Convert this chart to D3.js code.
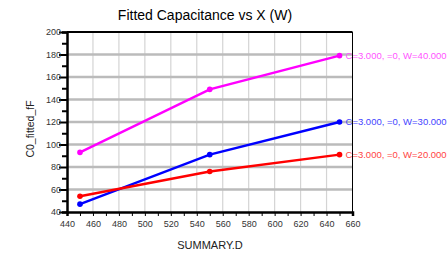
<!DOCTYPE html>
<html>
<head>
<meta charset="utf-8">
<script src="https://cdn.jsdelivr.net/npm/d3@7"></script>
<style>
  body { margin: 0; background: #fff; }
  svg { font-family: "Liberation Sans", Arial, sans-serif; }
</style>
</head>
<body>
<svg id="chart" width="448" height="253"></svg>
<script>
// data
var xVals = [450, 550, 650]
var seriesNames = ["C=3.000, =0, W=40.000", "C=3.000, =0, W=30.000", "C=3.000, =0, W=20.000"]
var w40 = [93, 149, 179]
var w30 = [47, 91, 120]
var w20 = [54, 76, 91]
var colors = ["#ff00ff", "#0000ff", "#ff0000"]
var labelColors = ["#ff55ff", "#4444ff", "#ff4444"]
var xTicks = [440, 460, 480, 500, 520, 540, 560, 580, 600, 620, 640, 660]
var yTicks = [40, 60, 80, 100, 120, 140, 160, 180, 200]

var series = [w40, w30, w20]

var svg = d3.select('#chart')
var margin = {top: 32, left: 67, right: 96, bottom: 41}
var width = 448, height = 253

var x = d3.scaleLinear().domain([440, 660]).range([margin.left, width - margin.right + 0.5])
var y = d3.scaleLinear().domain([40, 200]).range([height - margin.bottom, margin.top])

// vertical grid
svg.append('g').selectAll('line')
  .data(xTicks.filter(d => d > 440 && d < 660))
  .enter().append('line')
  .attr('x1', d => x(d)).attr('x2', d => x(d))
  .attr('y1', y(200)).attr('y2', y(40))
  .style('stroke', '#d4d4d4').style('stroke-width', 1.2)

// horizontal grid
svg.append('g').selectAll('line')
  .data(yTicks.filter(d => d > 40 && d < 200))
  .enter().append('line')
  .attr('x1', x(440)).attr('x2', x(660))
  .attr('y1', d => y(d)).attr('y2', d => y(d))
  .style('stroke', '#bbbbbb').style('stroke-width', 2.5)

// frame
svg.append('line').attr('x1', x(440)).attr('x2', x(660)).attr('y1', y(200)).attr('y2', y(200))
  .style('stroke', '#000').style('stroke-width', 2)

// axes
var xAxis = d3.axisBottom(x).tickValues(d3.range(440, 661, 10))
  .tickSize(4).tickFormat(d => d % 20 === 0 ? d : '')
var gx = svg.append('g').attr('transform', 'translate(0,' + y(40) + ')').call(xAxis)
gx.select('.domain').style('stroke-width', 2.5)
gx.selectAll('.tick line').style('stroke-width', 1)
gx.selectAll('text').attr('dy', '0.9em').style('font-size', '9px').style('fill', '#333')

var yAxis = d3.axisLeft(y).tickValues(d3.range(40, 201, 10))
  .tickSize(5).tickFormat(d => d % 20 === 0 ? d : '')
var gy = svg.append('g').attr('transform', 'translate(' + x(440) + ',0)').call(yAxis)
gy.select('.domain').style('stroke-width', 2.5)
gy.selectAll('.tick line').style('stroke-width', 2)
gy.selectAll('.tick').filter(d => d % 20 === 0).select('line').attr('x2', -8)
gy.selectAll('text').attr('x', -6).style('font-size', '9px').style('fill', '#333')

// lines + markers
var line = d3.line().x((d, i) => x(xVals[i])).y(d => y(d))
series.forEach(function(s, k) {
  svg.append('path').datum(s).attr('d', line)
    .style('fill', 'none').style('stroke', colors[k]).style('stroke-width', 2.5)
  svg.append('g').selectAll('circle').data(s).enter().append('circle')
    .attr('cx', (d, i) => x(xVals[i])).attr('cy', d => y(d)).attr('r', 2.8)
    .style('fill', colors[k])
  svg.append('text')
    .attr('x', x(xVals[2]) + 6)
    .attr('y', y(s[2]))
    .attr('dy', '0.35em')
    .style('font-size', '9.5px')
    .style('fill', labelColors[k])
    .text(seriesNames[k])
})

// right border drawn over the labels like the reference
svg.append('line').attr('x1', x(660)).attr('x2', x(660)).attr('y1', y(200)).attr('y2', y(40))
  .style('stroke', '#000').style('stroke-width', 1)

// titles
svg.append('text').attr('x', 205).attr('y', 20).style('text-anchor', 'middle')
  .style('font-size', '14px').text('Fitted Capacitance vs X (W)')
svg.append('text').attr('x', 210).attr('y', 249).style('text-anchor', 'middle')
  .style('font-size', '11px').style('fill', '#222').text('SUMMARY.D')
svg.append('text').attr('transform', 'rotate(-90)').attr('x', -129).attr('y', 34)
  .style('text-anchor', 'middle').style('font-size', '10.5px').style('fill', '#222').text('C0_fitted_fF')
</script>
</body>
</html>
